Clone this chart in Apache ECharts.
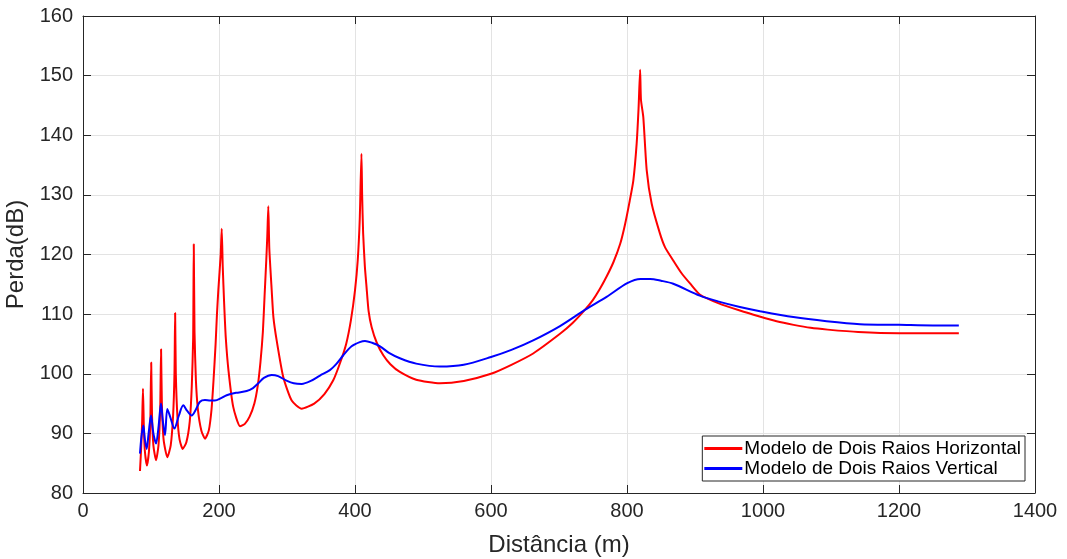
<!DOCTYPE html>
<html>
<head>
<meta charset="utf-8">
<script src="https://cdn.jsdelivr.net/npm/echarts@6/dist/echarts.min.js"></script>
<style>
html,body{margin:0;padding:0;background:#fff;}
#chart{width:1067px;height:559px;}
</style>
</head>
<body>
<div id="chart"></div>
<script>
// Tick labels
const xTicks = [0, 200, 400, 600, 800, 1000, 1200, 1400];
const yTicks = [80, 90, 100, 110, 120, 130, 140, 150, 160];

// Series names
const seriesNames = ['Modelo de Dois Raios Horizontal', 'Modelo de Dois Raios Vertical'];

// Horizontal polarisation: distance (m) and loss (dB)
const distH = [83.8,85.5,87.0,88.2,89.5,91,94,97,99,100.3,101.5,103.5,107.4,111,113.5,114.8,116,118.5,124,129,132.5,134.5,135.5,136.5,139,142,146.6,152,157,160,162,162.9,164,166,169,174,179.4,185,189,192,195,197,199,202.5,204,205.5,207.5,210,214,221,231,238,245,252,257,261,264.5,267,269.5,271,272.5,274,277.5,280,284.8,294.6,306.9,321.6,340,355,368,378,387,394,400,404,407,409.5,410.5,412,414.5,417,420,424.5,432,441.6,452,466,490,525,560,600,630,662,701.5,720,738,750,760,770,780,790,797,804,809.3,814.2,817,819.3,820.5,824,829,836.3,848.5,856,868,880,893,907,935,966,995,1020,1045,1070,1095,1140,1200,1250,1288];
const lossH = [83.7,87.5,92,97.5,91,87,84.6,87,92,101.9,93,88,85.5,88,94,104.1,95,89,86.0,88,93,100,110.2,100,92.5,89,87.4,88.5,92,98,106,121.7,107,99,94,90.5,89.1,90.5,94,99,105,110,114,120,124.3,118,112,106,100.5,94.4,91.2,91.6,92.8,95,98,102,107,113,119,123,128.1,121,114.0,109.5,105.6,99.4,95.5,94.15,95.0,96.6,98.9,101.8,105,109,114,119,126,136.9,130,123.5,118,114.5,110.5,107.8,105.2,103.1,101.6,100.3,99.0,98.4,98.8,100.0,101.5,103.4,106.7,108.5,110.7,112.4,114.2,116.3,118.7,121.8,125,129,132.4,138.6,144.5,151,146,143,134.1,128.5,123.5,121.2,119.0,116.9,115.1,113.3,111.8,110.6,109.6,108.8,108.2,107.7,107.4,107.0,106.8,106.8,106.8];

// Vertical polarisation: distance (m) and loss (dB)
const distV = [83.8,86,88.7,91,93.6,96.5,100,103.5,107.4,111,114.7,117.5,120.6,124,129,134.3,141,147.5,153,159.8,166,172,179.4,187,194,203,211.3,225,240.7,250,257.8,266,277.5,287,300,310,321.6,335,348.5,363,373,382.8,395,407,414.7,425,436.8,450,466,490,525,560,600,630,662,701.5,738,770,800.4,820,834,850,868,907,935,966,995.6,1044.6,1093.6,1142.6,1200,1250,1288];
const lossV = [86.6,89.5,91.3,89,87.4,90,93.0,90,88.3,91,95.0,92,89.7,94.1,92.5,90.8,93,94.7,93.8,93.0,94,95.3,95.6,95.5,95.5,95.9,96.4,96.8,97.1,97.6,98.4,99.3,99.8,99.6,98.8,98.4,98.3,98.8,99.7,100.6,101.7,103.1,104.6,105.3,105.5,105.2,104.6,103.5,102.6,101.7,101.2,101.5,102.8,104.0,105.6,108.0,110.7,112.9,115.2,115.9,115.9,115.6,115.1,113.1,112.1,111.2,110.5,109.5,108.8,108.3,108.2,108.1,108.1];

const pairs = (xs, ys) => xs.map((x, i) => [x, ys[i]]);

const FONT = '"Liberation Sans", Arial, Helvetica, sans-serif';
const AX = '#262626';
const GRID = '#e3e3e3';

const chart = echarts.init(document.getElementById('chart'), null, {renderer: 'canvas'});

const baseX = {
  type: 'value', min: xTicks[0], max: xTicks[xTicks.length - 1], interval: xTicks[1] - xTicks[0]
};
const baseY = {
  type: 'value', min: yTicks[0], max: yTicks[yTicks.length - 1], interval: yTicks[1] - yTicks[0]
};
const plain = v => String(v);

chart.setOption({
  animation: false,
  backgroundColor: '#ffffff',
  grid: {left: 83, right: 32, top: 16, bottom: 66, containLabel: false, outerBoundsMode: 'none'},
  legend: {
    orient: 'vertical',
    right: 42,
    bottom: 78,
    backgroundColor: '#ffffff',
    borderColor: AX,
    borderWidth: 1,
    borderRadius: 0,
    padding: [3, 4, 3, 2],
    itemGap: 1,
    itemWidth: 38,
    itemHeight: 3,
    icon: 'rect',
    textStyle: {fontFamily: FONT, fontSize: 19, color: '#000', padding: [0, 0, 0, -3]},
    data: seriesNames
  },
  xAxis: [
    Object.assign({}, baseX, {
      position: 'bottom',
      name: 'Distância (m)',
      nameLocation: 'middle',
      nameGap: 40,
      nameTextStyle: {fontFamily: FONT, fontSize: 24, color: AX},
      axisLine: {show: true, onZero: false, lineStyle: {color: AX, width: 1}},
      axisTick: {show: true, inside: true, length: 8, lineStyle: {color: AX}},
      axisLabel: {fontFamily: FONT, fontSize: 20, color: AX, margin: 8, formatter: plain},
      splitLine: {show: true, lineStyle: {color: GRID, width: 1}}
    }),
    Object.assign({}, baseX, {
      position: 'top',
      axisLine: {show: true, onZero: false, lineStyle: {color: AX, width: 1}},
      axisTick: {show: true, inside: true, length: 8, lineStyle: {color: AX}},
      axisLabel: {show: false},
      splitLine: {show: false}
    })
  ],
  yAxis: [
    Object.assign({}, baseY, {
      position: 'left',
      name: 'Perda(dB)',
      nameLocation: 'middle',
      nameGap: 37,
      nameTextStyle: {fontFamily: FONT, fontSize: 24, color: AX},
      axisLine: {show: true, onZero: false, lineStyle: {color: AX, width: 1}},
      axisTick: {show: true, inside: true, length: 8, lineStyle: {color: AX}},
      axisLabel: {fontFamily: FONT, fontSize: 20, color: AX, margin: 10, formatter: plain},
      splitLine: {show: true, lineStyle: {color: GRID, width: 1}}
    }),
    Object.assign({}, baseY, {
      position: 'right',
      axisLine: {show: true, onZero: false, lineStyle: {color: AX, width: 1}},
      axisTick: {show: true, inside: true, length: 8, lineStyle: {color: AX}},
      axisLabel: {show: false},
      splitLine: {show: false}
    })
  ],
  series: [
    {
      name: seriesNames[0], type: 'line', xAxisIndex: 0, yAxisIndex: 0,
      data: pairs(distH, lossH), showSymbol: false, symbol: 'none', smooth: 0.2,
      lineStyle: {color: '#ff0000', width: 2}, itemStyle: {color: '#ff0000'}, z: 2
    },
    {
      name: seriesNames[1], type: 'line', xAxisIndex: 0, yAxisIndex: 0,
      data: pairs(distV, lossV), showSymbol: false, symbol: 'none', smooth: 0.3,
      lineStyle: {color: '#0000ff', width: 2}, itemStyle: {color: '#0000ff'}, z: 3
    }
  ]
});
</script>
</body>
</html>
